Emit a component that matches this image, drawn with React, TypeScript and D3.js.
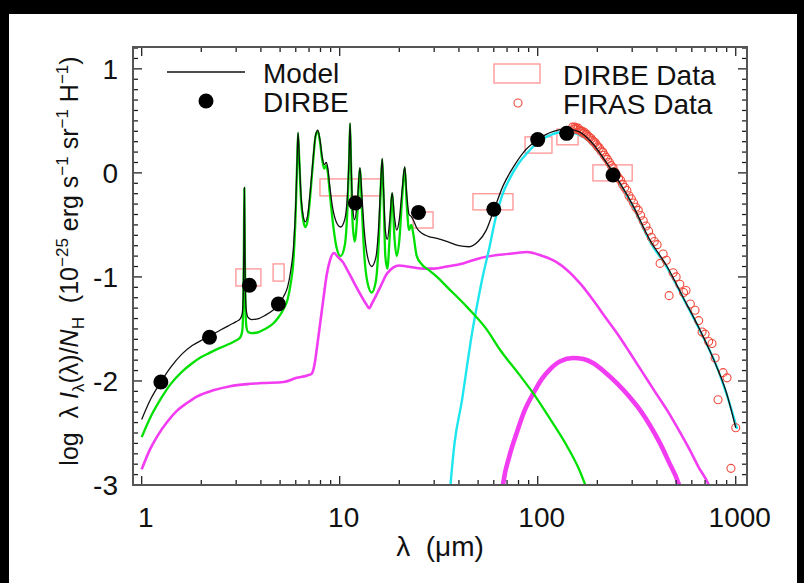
import React from "react";
import * as d3 from "d3";

type Pt = [number, number];

const WIDTH = 804;
const HEIGHT = 583;
const FRAME = { left: 133, right: 747, top: 47, bottom: 485 };
const X_DOMAIN: [number, number] = [0.904, 1140];
const Y_DOMAIN: [number, number] = [-3, 1.21];

const xTickLabels = [1, 10, 100, 1000];
const yTickLabels = [-3, -2, -1, 0, 1];

// Total model emission: log10(lambda I_lambda / N_H) versus wavelength (um)
const modelCurve: Pt[] = [
  [1.0, -2.37], [1.1, -2.19], [1.25, -2.01], [1.4, -1.87], [1.6, -1.74], [1.8, -1.66],
  [2.0, -1.61], [2.2, -1.57], [2.5, -1.51], [2.8, -1.46], [3.0, -1.43], [3.15, -1.4],
  [3.22, -1.35], [3.26, -1.15], [3.28, -0.75], [3.3, -0.14], [3.32, -0.75], [3.34, -1.15],
  [3.38, -1.33], [3.45, -1.39], [3.6, -1.41], [3.9, -1.4], [4.2, -1.37], [4.6, -1.32],
  [4.9, -1.27], [5.2, -1.19], [5.45, -1.1], [5.65, -0.95], [5.85, -0.7], [6.0, -0.3],
  [6.1, 0.15], [6.16, 0.39], [6.25, 0.15], [6.38, -0.22], [6.55, -0.42], [6.7, -0.47],
  [6.9, -0.4], [7.1, -0.18], [7.35, 0.15], [7.55, 0.36], [7.75, 0.41], [7.95, 0.32],
  [8.15, 0.16], [8.35, 0.08], [8.55, 0.1], [8.7, 0.05], [8.9, -0.12], [9.2, -0.33],
  [9.6, -0.47], [10.1, -0.52], [10.6, -0.45], [10.95, -0.2], [11.15, 0.15], [11.28, 0.48],
  [11.42, 0.1], [11.6, -0.3], [11.9, -0.45], [12.3, -0.25], [12.65, 0.05], [12.95, -0.22],
  [13.3, -0.55], [13.8, -0.8], [14.5, -0.9], [15.2, -0.82], [15.8, -0.45], [16.15, -0.05],
  [16.4, 0.14], [16.65, -0.15], [17.0, -0.55], [17.4, -0.64], [17.9, -0.45], [18.4, -0.19],
  [18.9, -0.42], [19.4, -0.55], [20.0, -0.45], [20.7, -0.15], [21.3, 0.06], [21.8, -0.2],
  [22.4, -0.4], [23.0, -0.42], [23.5, -0.45], [24.5, -0.53], [26, -0.58], [28, -0.61],
  [31, -0.63], [35, -0.66], [40, -0.7], [45, -0.71], [50, -0.66], [55, -0.55], [60, -0.36],
  [67, -0.12], [75, 0.05], [85, 0.2], [100, 0.32], [120, 0.4], [140, 0.42], [160, 0.4],
  [190, 0.28], [215, 0.14], [245, -0.02], [300, -0.3], [370, -0.65], [450, -0.9],
  [540, -1.19], [660, -1.51], [800, -1.86], [900, -2.12], [1000, -2.45],
];

// Aromatic band emission plus stellar continuum (green)
const pahCurve: Pt[] = [
  [1.0, -2.54], [1.1, -2.36], [1.25, -2.17], [1.4, -2.03], [1.6, -1.91], [1.8, -1.83],
  [2.0, -1.77], [2.2, -1.73], [2.5, -1.68], [2.8, -1.64], [3.0, -1.61], [3.15, -1.58],
  [3.22, -1.52], [3.26, -1.25], [3.28, -0.78], [3.3, -0.15], [3.32, -0.78], [3.34, -1.25],
  [3.38, -1.48], [3.45, -1.53], [3.6, -1.54], [3.9, -1.53], [4.2, -1.5], [4.6, -1.45],
  [4.9, -1.39], [5.2, -1.31], [5.45, -1.22], [5.65, -1.07], [5.85, -0.82], [6.0, -0.36],
  [6.1, 0.12], [6.16, 0.38], [6.25, 0.12], [6.38, -0.26], [6.55, -0.46], [6.7, -0.52],
  [6.9, -0.45], [7.1, -0.22], [7.35, 0.12], [7.55, 0.35], [7.75, 0.4], [7.95, 0.3],
  [8.15, 0.13], [8.35, 0.04], [8.55, 0.07], [8.7, 0.01], [8.9, -0.18], [9.2, -0.45],
  [9.6, -0.7], [10.1, -0.8], [10.6, -0.7], [10.95, -0.33], [11.15, 0.1], [11.28, 0.47],
  [11.42, 0.05], [11.6, -0.45], [11.9, -0.66], [12.3, -0.38], [12.65, 0.04], [12.95, -0.35],
  [13.3, -0.78], [13.8, -1.05], [14.5, -1.15], [15.2, -1.05], [15.8, -0.6], [16.15, -0.1],
  [16.4, 0.13], [16.65, -0.22], [17.0, -0.8], [17.4, -0.92], [17.9, -0.6], [18.4, -0.2],
  [18.9, -0.62], [19.4, -0.8], [20.0, -0.65], [20.7, -0.22], [21.3, 0.05], [21.8, -0.3],
  [22.4, -0.55], [23.0, -0.5], [23.5, -0.58], [24.5, -0.8], [26, -0.88], [28, -0.93],
  [31, -1.0], [35, -1.1], [44, -1.29], [55, -1.5], [64.5, -1.7], [80, -1.93], [95, -2.12],
  [115, -2.36], [140, -2.62], [160, -2.83], [178, -3.05],
];

// Very small grain continuum (thin magenta)
const vsgCurve: Pt[] = [
  [1.0, -2.85], [1.1, -2.66], [1.2, -2.53], [1.35, -2.39], [1.5, -2.29], [1.7, -2.21],
  [1.9, -2.15], [2.3, -2.09], [2.8, -2.05], [3.4, -2.03], [4.1, -2.02], [5.2, -2.01],
  [6.06, -1.97], [6.8, -1.95], [7.22, -1.93], [7.45, -1.85], [7.65, -1.7], [8.0, -1.42],
  [8.26, -1.22], [8.6, -0.98], [8.93, -0.84], [9.36, -0.77], [9.7, -0.8], [10.4, -0.86],
  [10.9, -0.93], [12.66, -1.16], [13.6, -1.26], [14.1, -1.3], [14.6, -1.25], [16.0, -1.1],
  [17.3, -0.97], [18.6, -0.91], [20, -0.89], [21.8, -0.9], [26.4, -0.92], [30, -0.92],
  [34.8, -0.9], [42, -0.87], [51, -0.82], [62.5, -0.79], [78.7, -0.77], [88, -0.76],
  [106, -0.8], [125, -0.86], [140, -0.93], [165, -1.07], [190, -1.22], [220, -1.39],
  [251, -1.54], [290, -1.72], [339, -1.92], [390, -2.1], [450, -2.28], [515, -2.47],
  [585, -2.66], [650, -2.83], [723, -2.98], [760, -3.08],
];

// Big grain emission (cyan)
const bgCurve: Pt[] = [
  [35.5, -3.2], [38, -2.6], [41.5, -2.18], [44, -1.85], [46.6, -1.54], [50, -1.22],
  [53, -0.98], [57, -0.72], [61, -0.45], [66, -0.22], [72.4, -0.05], [80, 0.09],
  [88.3, 0.19], [102.7, 0.31], [115, 0.36], [130, 0.39], [145.6, 0.39], [160, 0.37],
  [177, 0.32], [200, 0.21], [245, -0.03], [300, -0.31], [369, -0.66], [450, -0.91],
  [542, -1.2], [661, -1.52], [805, -1.87], [900, -2.13], [1016, -2.46],
];

// Cold grain component (thick magenta)
const coldCurve: Pt[] = [
  [65, -3.2], [67, -2.98], [72, -2.72], [78.3, -2.5], [86, -2.28], [95, -2.12],
  [105, -1.98], [115, -1.89], [130, -1.81], [151, -1.78], [170, -1.79], [191, -1.83],
  [220, -1.92], [251, -2.02], [290, -2.15], [329, -2.28], [370, -2.43], [415, -2.6],
  [460, -2.78], [513, -2.98], [535, -3.1],
];

// Model averaged over the DIRBE bands (filled dots)
const dirbeLambda = [1.25, 2.2, 3.5, 4.9, 12, 25, 60, 100, 140, 240];
const dirbeModel = [-2.01, -1.58, -1.08, -1.26, -0.29, -0.38, -0.35, 0.32, 0.38, -0.02];

// DIRBE measurements: band edges (um) and value range
const bandLo = [2.99, 4.61, 7.95, 23.5, 47.1, 86.3, 125, 190];
const bandHi = [4.0, 5.24, 16.2, 29.6, 75, 118, 160, 300];
const bandMin = [-1.087, -1.04, -0.221, -0.53, -0.356, 0.19, 0.27, -0.077];
const bandMax = [-0.923, -0.875, -0.058, -0.375, -0.2, 0.346, 0.42, 0.077];

// FIRAS spectrum
const firasLambda = [
  150, 152, 154, 156, 158, 160, 162, 164, 166, 168, 170, 172, 175, 177, 180, 183, 186, 189,
  192, 195, 198, 201, 205, 209, 213, 217, 221, 225, 230, 235, 240, 245, 250, 256, 262, 268,
  275, 282, 289, 297, 305, 313, 322, 331, 341, 352, 363, 375, 388, 401, 415, 430, 446, 461,
  483, 500, 522, 545, 561, 590, 623, 650, 676, 700, 730, 759, 787, 814, 863, 904, 946, 1000,
];
const firasValue = [
  0.44, 0.42, 0.44, 0.43, 0.42, 0.43, 0.41, 0.41, 0.4, 0.4, 0.38, 0.39, 0.37, 0.37, 0.35,
  0.34, 0.33, 0.31, 0.3, 0.29, 0.27, 0.25, 0.24, 0.21, 0.2, 0.17, 0.15, 0.13, 0.1, 0.07,
  0.05, 0.01, -0.02, -0.05, -0.07, -0.11, -0.14, -0.17, -0.22, -0.25, -0.29, -0.33, -0.36,
  -0.41, -0.46, -0.51, -0.56, -0.62, -0.66, -0.69, -0.87, -0.78, -0.84, -1.18, -0.96, -1.0,
  -1.07, -1.15, -1.13, -1.26, -1.32, -1.42, -1.53, -1.55, -1.62, -1.64, -1.78, -2.18, -1.92,
  -1.97, -2.84, -2.45,
];

const FONT = "'Liberation Sans', Arial, Helvetica, sans-serif";
const GREEN = "#00e000";
const MAGENTA = "#f23cf2";
const CYAN = "#1ee6ee";
const BOX = "#ff9a9a";
const FIRAS = "#f04a3c";

export default function App() {
  const x = d3.scaleLog().domain(X_DOMAIN).range([FRAME.left, FRAME.right]);
  const y = d3.scaleLinear().domain(Y_DOMAIN).range([FRAME.bottom, FRAME.top]);
  const line = d3
    .line<Pt>()
    .x((d) => x(d[0]))
    .y((d) => y(d[1]))
    .curve(d3.curveMonotoneX);

  const xMajor = xTickLabels;
  const xMinor: number[] = [];
  for (const dec of [0.1, 1, 10, 100, 1000]) {
    for (let k = 2; k <= 9; k++) {
      const v = dec * k;
      if (v >= X_DOMAIN[0] && v <= X_DOMAIN[1]) xMinor.push(v);
    }
  }
  const yMinor = d3.range(-30, 13).map((i) => i / 10).filter((v) => v % 1 !== 0);

  const tick = { stroke: "#222", strokeWidth: 1.3 };
  const majorLen = 9;
  const minorLen = 5;
  const titleSize = 25;
  const subSize = 17;

  return (
    <svg
      width={WIDTH}
      height={HEIGHT}
      style={{ position: "fixed", left: 0, top: 0, background: "#fff" }}
      fontFamily={FONT}
    >
      <defs>
        <clipPath id="plotClip">
          <rect
            x={FRAME.left}
            y={FRAME.top}
            width={FRAME.right - FRAME.left}
            height={FRAME.bottom - FRAME.top}
          />
        </clipPath>
      </defs>
      <rect x={0} y={0} width={WIDTH} height={HEIGHT} fill="#fff" />

      <g clipPath="url(#plotClip)">
        {bandLo.map((lo, i) => (
          <rect
            key={"b" + i}
            x={x(lo)}
            y={y(bandMax[i])}
            width={x(bandHi[i]) - x(lo)}
            height={y(bandMin[i]) - y(bandMax[i])}
            fill="none"
            stroke={BOX}
            strokeWidth={1.4}
          />
        ))}
        <path d={line(coldCurve) ?? ""} fill="none" stroke={MAGENTA} strokeWidth={4.6} />
        <path d={line(vsgCurve) ?? ""} fill="none" stroke={MAGENTA} strokeWidth={2.6} />
        <path d={line(bgCurve) ?? ""} fill="none" stroke={CYAN} strokeWidth={2.4} />
        <path d={line(pahCurve) ?? ""} fill="none" stroke={GREEN} strokeWidth={2.3} />
        {firasLambda.map((l, i) => (
          <circle
            key={"f" + i}
            cx={x(l)}
            cy={y(firasValue[i])}
            r={4}
            fill="none"
            stroke={FIRAS}
            strokeWidth={1.1}
          />
        ))}
        <path d={line(modelCurve) ?? ""} fill="none" stroke="#111" strokeWidth={1.3} />
        {dirbeLambda.map((l, i) => (
          <circle key={"d" + i} cx={x(l)} cy={y(dirbeModel[i])} r={7.5} fill="#000" />
        ))}
      </g>

      {/* ticks on all four sides, pointing inward */}
      {xMajor.map((v) => (
        <g key={"xM" + v} {...tick}>
          <line x1={x(v)} x2={x(v)} y1={FRAME.bottom} y2={FRAME.bottom - majorLen} />
          <line x1={x(v)} x2={x(v)} y1={FRAME.top} y2={FRAME.top + majorLen} />
        </g>
      ))}
      {xMinor.map((v) => (
        <g key={"xm" + v} {...tick}>
          <line x1={x(v)} x2={x(v)} y1={FRAME.bottom} y2={FRAME.bottom - minorLen} />
          <line x1={x(v)} x2={x(v)} y1={FRAME.top} y2={FRAME.top + minorLen} />
        </g>
      ))}
      {yTickLabels.map((v) => (
        <g key={"yM" + v} {...tick}>
          <line x1={FRAME.left} x2={FRAME.left + majorLen} y1={y(v)} y2={y(v)} />
          <line x1={FRAME.right} x2={FRAME.right - majorLen} y1={y(v)} y2={y(v)} />
        </g>
      ))}
      {yMinor.map((v) => (
        <g key={"ym" + v} {...tick}>
          <line x1={FRAME.left} x2={FRAME.left + minorLen} y1={y(v)} y2={y(v)} />
          <line x1={FRAME.right} x2={FRAME.right - minorLen} y1={y(v)} y2={y(v)} />
        </g>
      ))}

      <rect
        x={FRAME.left}
        y={FRAME.top}
        width={FRAME.right - FRAME.left}
        height={FRAME.bottom - FRAME.top}
        fill="none"
        stroke="#555"
        strokeWidth={2}
      />

      {/* tick labels */}
      {xTickLabels.map((v) => (
        <text key={"xl" + v} x={x(v) + 4} y={527} fontSize={28} textAnchor="middle" fill="#111">
          {v}
        </text>
      ))}
      {yTickLabels.map((v) => (
        <text key={"yl" + v} x={118} y={y(v) + 10} fontSize={28} textAnchor="end" fill="#111">
          {String(v)}
        </text>
      ))}

      {/* axis titles */}
      <text x={440} y={556} fontSize={28} textAnchor="middle" fill="#111" style={{ whiteSpace: "pre" }}>
        λ  (μm)
      </text>
      <text
        transform="translate(78,261) rotate(-90)"
        fontSize={titleSize}
        textAnchor="middle"
        fill="#111"
        style={{ whiteSpace: "pre" }}
      >
        <tspan>log  λ </tspan>
        <tspan fontStyle="italic">I</tspan>
        <tspan fontSize={subSize} dy={6}>λ</tspan>
        <tspan dy={-6}>(λ)/</tspan>
        <tspan fontStyle="italic">N</tspan>
        <tspan fontSize={subSize} dy={6}>H</tspan>
        <tspan dy={-6}>  (10</tspan>
        <tspan fontSize={subSize} dy={-10}>−25</tspan>
        <tspan dy={10}> erg s</tspan>
        <tspan fontSize={subSize} dy={-10}>−1</tspan>
        <tspan dy={10}> sr</tspan>
        <tspan fontSize={subSize} dy={-10}>−1</tspan>
        <tspan dy={10}> H</tspan>
        <tspan fontSize={subSize} dy={-10}>−1</tspan>
        <tspan dy={10}>)</tspan>
      </text>

      {/* legend */}
      <line x1={167} x2={245} y1={72} y2={72} stroke="#111" strokeWidth={1.3} />
      <text x={263} y={83} fontSize={28} fill="#111">Model</text>
      <circle cx={206} cy={101} r={7.5} fill="#000" />
      <text x={263} y={112} fontSize={28} fill="#111">DIRBE</text>
      <rect x={494} y={64} width={46} height={19} fill="none" stroke={BOX} strokeWidth={1.4} />
      <text x={563} y={85} fontSize={28} fill="#111">DIRBE Data</text>
      <circle cx={518} cy={103} r={4} fill="none" stroke={FIRAS} strokeWidth={1.1} />
      <text x={563} y={114} fontSize={28} fill="#111">FIRAS Data</text>

      {/* dark edges of the frame */}
      <rect x={0} y={0} width={WIDTH} height={14} fill="#000" />
      <rect x={0} y={0} width={9} height={HEIGHT} fill="#000" />
      <rect x={797} y={0} width={WIDTH - 797} height={HEIGHT} fill="#000" />
    </svg>
  );
}
